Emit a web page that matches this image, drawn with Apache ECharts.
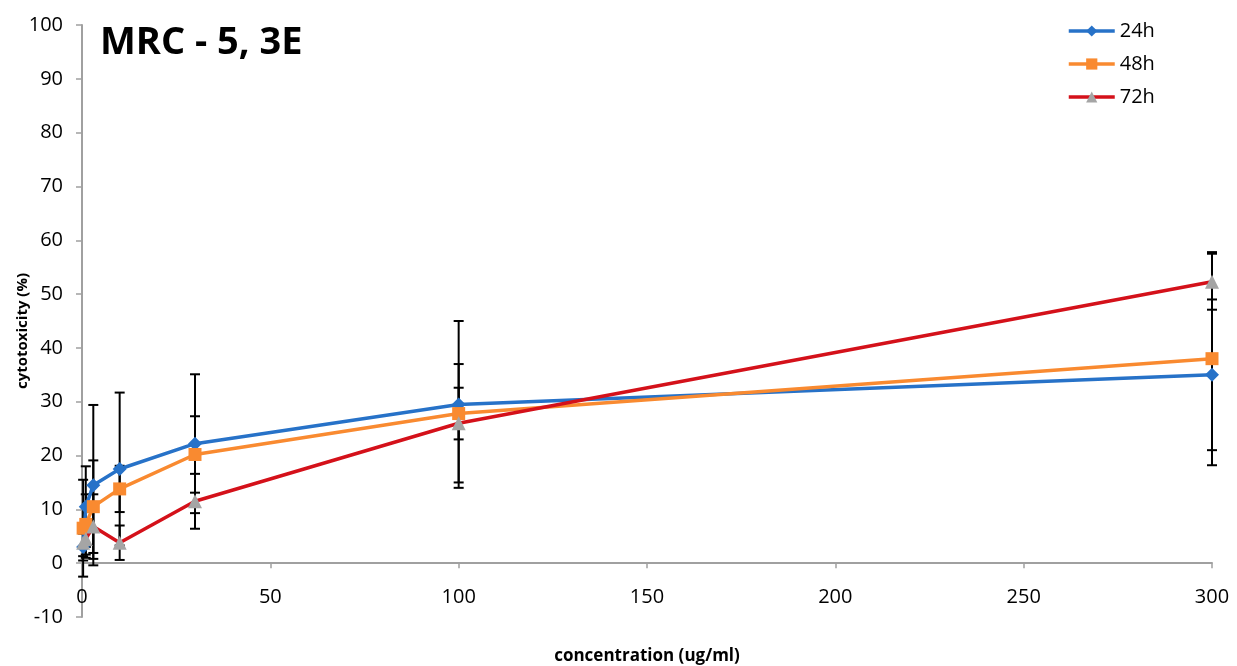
<!DOCTYPE html>
<html>
<head>
<meta charset="utf-8">
<script src="https://cdn.jsdelivr.net/npm/echarts@6/dist/echarts.min.js"></script>
<style>
html,body{margin:0;padding:0;background:#fff;}
#c{width:1237px;height:666px;}
</style>
</head>
<body>
<div id="c"></div>
<script>
// concentrations (ug/ml)
const conc = [0.3, 1, 3, 10, 30, 100, 300];
// mean cytotoxicity (%)
const h24 = [3.0, 10.5, 14.5, 17.5, 22.2, 29.5, 35.0];
const h48 = [6.5, 7.2, 10.5, 13.8, 20.2, 27.8, 38.0];
const h72 = [3.8, 4.5, 6.8, 3.8, 11.5, 26.0, 52.3];
// standard deviations (error bars)
const sd24 = [2.5, 7.5, 14.9, 14.2, 12.9, 15.5, 14.0];
const sd48 = [9.0, 5.6, 8.6, 4.3, 7.1, 4.8, 19.8];
const sd72 = [2.5, 3.5, 6.0, 3.2, 5.1, 11.0, 5.2];
const seriesNames = ['24h', '48h', '72h'];
const yTicks = {min: -10, max: 100, interval: 10};
const xTicks = {min: 0, max: 300, interval: 50};

const FONT = 'Open Sans';
const chart = echarts.init(document.getElementById('c'));

function pts(vals){ return conc.map((c,i)=>[c, vals[i]]); }
function errData(vals, sd){ return conc.map((c,i)=>[c, vals[i]-sd[i], vals[i]+sd[i]]); }
function errSeries(vals, sd){
  return {
    type:'custom', coordinateSystem:'cartesian2d', silent:true, z:1,
    data: errData(vals, sd),
    encode:{x:0, y:[1,2]},
    renderItem: function(params, api){
      const x = api.value(0);
      const top = api.coord([x, api.value(2)]);
      const bot = api.coord([x, api.value(1)]);
      const w = 5;
      const st = {stroke:'#000', lineWidth:2};
      return {type:'group', children:[
        {type:'line', shape:{x1:top[0], y1:top[1], x2:bot[0], y2:bot[1]}, style:st},
        {type:'line', shape:{x1:top[0]-w, y1:top[1], x2:top[0]+w, y2:top[1]}, style:st},
        {type:'line', shape:{x1:bot[0]-w, y1:bot[1], x2:bot[0]+w, y2:bot[1]}, style:st}
      ]};
    }
  };
}

const option = {
  backgroundColor:'#fff',
  animation:false,
  title:{
    text:'MRC - 5, 3E', left:95, top:19,
    textStyle:{fontFamily:FONT, fontSize:38, fontWeight:'bold', color:'#000'}
  },
  legend:{
    data: seriesNames,
    orient:'vertical', left:1062, top:16,
    itemWidth:46, itemHeight:14, itemGap:13,
    lineStyle:{width:3.5},
    textStyle:{fontFamily:FONT, fontSize:20, color:'#000', lineHeight:20}
  },
  grid:{left:82, right:25, top:25, bottom:49, containLabel:false, outerBoundsMode:'none'},
  xAxis:{
    type:'value', min:xTicks.min, max:xTicks.max, interval:xTicks.interval,
    name:'concentration (ug/ml)', nameLocation:'middle', nameGap:31,
    nameTextStyle:{fontFamily:FONT, fontSize:17, fontWeight:'bold', color:'#000'},
    axisLine:{show:true, onZero:true, lineStyle:{color:'#a0a0a0', width:2}},
    axisTick:{show:true, length:5, lineStyle:{color:'#a0a0a0', width:1.5}},
    axisLabel:{fontFamily:FONT, fontSize:20, color:'#000', margin:-30},
    splitLine:{show:false}
  },
  yAxis:{
    type:'value', min:yTicks.min, max:yTicks.max, interval:yTicks.interval,
    name:'cytotoxicity (%)', nameLocation:'middle', nameGap:52, nameMoveOverlap:false,
    nameTextStyle:{fontFamily:FONT, fontSize:15, fontWeight:'bold', color:'#000', padding:[0,20,0,0]},
    axisLine:{show:true, lineStyle:{color:'#a0a0a0', width:2}},
    axisTick:{show:true, length:6, lineStyle:{color:'#a0a0a0', width:1.5}},
    axisLabel:{fontFamily:FONT, fontSize:20, color:'#000', margin:19},
    splitLine:{show:false}
  },
  series:[
    errSeries(h24, sd24), errSeries(h48, sd48), errSeries(h72, sd72),
    {name:'24h', type:'line', data:pts(h24), smooth:false, z:3,
      symbol:'diamond', symbolSize:14,
      lineStyle:{color:'#2772c8', width:3.5},
      itemStyle:{color:'#2772c8'}},
    {name:'48h', type:'line', data:pts(h48), z:4,
      symbol:'rect', symbolSize:13,
      lineStyle:{color:'#f98a30', width:3.5},
      itemStyle:{color:'#f98a30'}},
    {name:'72h', type:'line', data:pts(h72), z:5,
      symbol:'triangle', symbolSize:14,
      lineStyle:{color:'#d4111a', width:3.5},
      itemStyle:{color:'#a5a5a5'}}
  ]
};
chart.setOption(option);
</script>
</body>
</html>
